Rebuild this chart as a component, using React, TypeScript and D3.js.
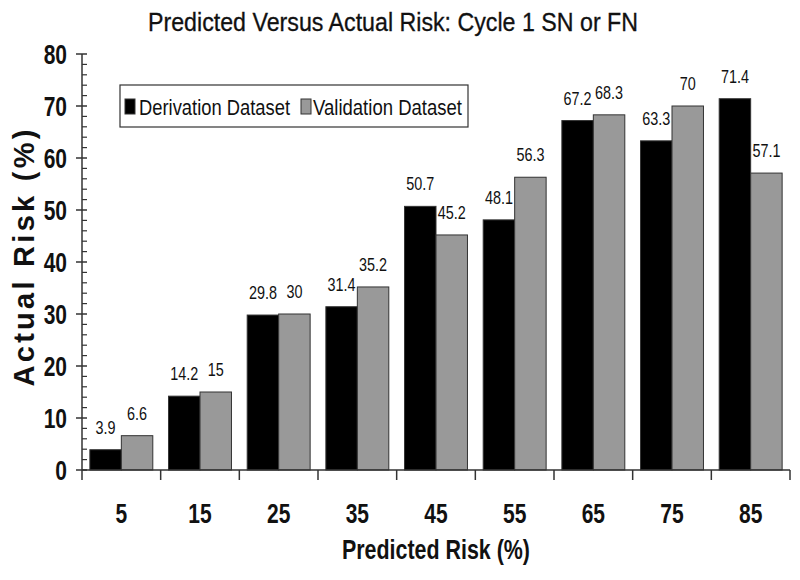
import React from "react";
import * as d3 from "d3";

const categories = ["5", "15", "25", "35", "45", "55", "65", "75", "85"];
const derivation = [3.9, 14.2, 29.8, 31.4, 50.7, 48.1, 67.2, 63.3, 71.4];
const validation = [6.6, 15, 30, 35.2, 45.2, 56.3, 68.3, 70, 57.1];
const seriesNames = ["Derivation Dataset", "Validation Dataset"];
const yTicks = [0, 10, 20, 30, 40, 50, 60, 70, 80];

const FONT = "'Liberation Sans', Arial, sans-serif";

function NText(props: any) {
  const { x, y, sx = 0.8, children, ...rest } = props;
  return (
    <text transform={`translate(${x},${y}) scale(${sx},1)`} fontFamily={FONT} fill="#111" {...rest}>
      {children}
    </text>
  );
}

export default function App() {
  const W = 800, H = 580;
  const x0 = d3.scaleBand<string>().domain(categories).range([82, 790]).padding(0);
  const y = d3.scaleLinear().domain([0, 80]).range([470, 54]);
  const bw = x0.bandwidth();
  const barW = bw * 0.4;
  const off = bw * 0.1;
  const minor = d3.range(0, 81, 2).filter((v) => v % 10 !== 0);
  const colors = ["#000000", "#999999"];
  const series = [derivation, validation];

  return (
    <svg width={W} height={H} style={{ display: "block", position: "absolute", left: 0, top: 0 }}>
      <rect width={W} height={H} fill="#fff" />
      <text x={393} y={31} textAnchor="middle" fontFamily={FONT} fontSize={25} textLength={490} lengthAdjust="spacingAndGlyphs" fill="#111" stroke="#111" strokeWidth={0.3}>
        Predicted Versus Actual Risk: Cycle 1 SN or FN
      </text>

      {/* bars */}
      {categories.map((c, i) =>
        series.map((s, k) => {
          const bx = (x0(c) as number) + off + k * barW;
          return (
            <g key={c + k}>
              <rect x={bx} y={y(s[i])} width={barW} height={y(0) - y(s[i])} fill={colors[k]} stroke="#333" strokeWidth={1} />
              <NText x={bx + barW / 2} y={y(s[i]) - 16} textAnchor="middle" fontSize={18} sx={0.8}>
                {String(s[i])}
              </NText>
            </g>
          );
        })
      )}

      {/* y axis */}
      <line x1={82} x2={82} y1={y(80)} y2={y(0)} stroke="#333" strokeWidth={1.5} />
      {yTicks.map((t) => (
        <g key={t}>
          <line x1={76} x2={87} y1={y(t)} y2={y(t)} stroke="#333" strokeWidth={1.5} />
          <NText x={67} y={y(t) + 10} textAnchor="end" fontWeight="bold" fontSize={28} sx={0.75}>
            {t}
          </NText>
        </g>
      ))}
      {minor.map((t) => (
        <line key={"m" + t} x1={82} x2={87} y1={y(t)} y2={y(t)} stroke="#333" strokeWidth={1.2} />
      ))}

      {/* x axis */}
      <line x1={82} x2={790} y1={470} y2={470} stroke="#333" strokeWidth={1.5} />
      {[...categories.map((c) => x0(c) as number), 790].map((v, i) => (
        <line key={"xt" + i} x1={v} x2={v} y1={470} y2={480} stroke="#333" strokeWidth={1.5} />
      ))}
      {categories.map((c) => (
        <NText key={"xl" + c} x={(x0(c) as number) + bw / 2} y={523} textAnchor="middle" fontWeight="bold" fontSize={28} sx={0.75}>
          {c}
        </NText>
      ))}

      <text x={436} y={559} textAnchor="middle" fontFamily={FONT} fontWeight="bold" fontSize={28} textLength={188} lengthAdjust="spacingAndGlyphs" fill="#111">
        Predicted Risk (%)
      </text>

      <text transform="translate(34,258) rotate(-90)" textAnchor="middle" fontFamily={FONT} fontWeight="bold" fontSize={29} textLength={257} lengthAdjust="spacing" fill="#111">
        Actual Risk (%)
      </text>

      {/* legend */}
      <rect x={120} y={85} width={348} height={42} fill="#fff" stroke="#333" strokeWidth={1.2} />
      <rect x={125} y={99} width={10} height={15} fill={colors[0]} stroke="#333" />
      <text x={139} y={115} fontFamily={FONT} fontSize={22} textLength={151} lengthAdjust="spacingAndGlyphs" fill="#111">
        {seriesNames[0]}
      </text>
      <rect x={301} y={99} width={10} height={15} fill={colors[1]} stroke="#333" />
      <text x={313} y={115} fontFamily={FONT} fontSize={22} textLength={149} lengthAdjust="spacingAndGlyphs" fill="#111">
        {seriesNames[1]}
      </text>
    </svg>
  );
}
